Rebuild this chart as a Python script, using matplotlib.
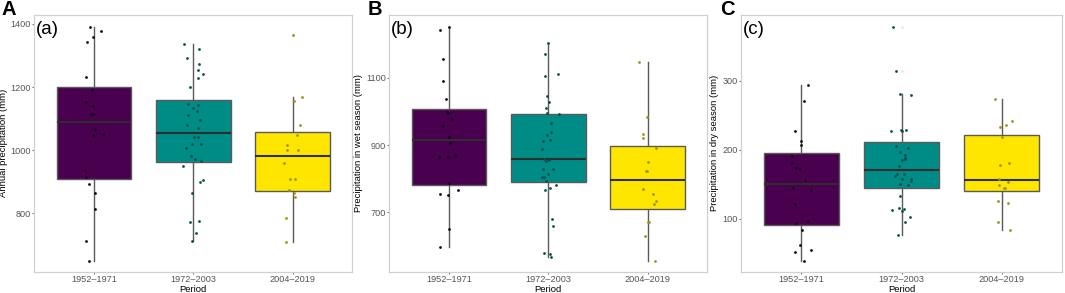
import numpy as np
import matplotlib.pyplot as plt

plt.rcParams['font.family'] = ['Liberation Sans', 'DejaVu Sans']

periods = ['1952–1971', '1972–2003', '2004–2019']

# annual precipitation (mm), panel (a)
annual_p1 = [1391, 1379, 1357, 1342, 1231, 1189, 1153, 1140, 1114, 1114,
             1066, 1051, 1048, 937, 916, 892, 865, 813, 712, 650]
annual_p2 = [1335, 1321, 1292, 1273, 1254, 1240, 1228, 1199, 1146, 1142,
             1135, 1124, 1110, 1094, 1079, 1069, 1042, 1042, 1020, 1019,
             1008, 980, 971, 965, 950, 905, 900, 865, 777, 772, 736, 712]
annual_p3 = [1366, 1168, 1155, 1081, 1049, 1015, 1002, 1002, 960, 910,
             910, 873, 863, 853, 785, 710]

# wet season precipitation (mm), panel (b)
wet_p1 = [1251, 1241, 1155, 1090, 1036, 998, 994, 976, 958, 923,
          907, 868, 866, 866, 788, 766, 755, 751, 651, 596]
wet_p2 = [1204, 1170, 1105, 1111, 1047, 1027, 1010, 994, 993, 965,
          938, 916, 911, 889, 860, 854, 829, 828, 813, 805,
          805, 794, 782, 773, 766, 681, 661, 579, 577, 568, 855, 930]
wet_p3 = [1146, 983, 932, 922, 890, 849, 822, 822, 770, 755,
          734, 724, 672, 672, 630, 556]

# dry season precipitation (mm), panel (c)
dry_p1 = [294, 270, 227, 213, 207, 191, 180, 174, 172, 156,
          144, 142, 121, 96, 93, 84, 62, 54, 51, 39]
dry_p2 = [378, 314, 280, 279, 227, 228, 227, 228, 205, 202,
          196, 192, 188, 186, 176, 165, 164, 161, 157, 157,
          155, 150, 149, 133, 113, 115, 114, 111, 102, 95, 76, 185]
dry_p3 = [273, 241, 236, 232, 218, 180, 177, 158, 153, 148,
          144, 144, 126, 122, 95, 83]

# horizontal jitter of each point (1/300 of a category step), same order as above
annual_j1 = [-12, 20, -2, -20, -25, -7, -23, -3, -9, -3, 3, 27, -2, -28, -24, -16, 3, 3, -23, -14]
annual_j2 = [-27, 18, -20, 16, 13, 28, 13, -9, -16, 13, -2, 12, -17, 19, -19, 15, 1, 13, -3, 24,
             -22, -7, 6, 24, -30, 28, 19, -3, 18, -9, 8, -4]
annual_j3 = [2, 27, 3, 22, 13, -17, -17, 16, -26, -7, 6, -12, 3, 8, -20, -19]

wet_j1 = [0, -26, -17, -17, -10, -7, -2, 8, -18, 0, 3, 18, -30, -3, 0, 28, -27, -2, 0, -26]
wet_j2 = [-1, -11, -10, 29, -4, 1, -7, -5, 31, 8, 8, 6, -16, -18, -12, -6, -16, 14, -2, -18,
          -12, -8, 24, 5, -11, 11, 13, -13, 4, 7, 2, -3]
wet_j3 = [-25, -3, -13, -13, 26, 1, -5, -1, -13, 16, 24, 18, 0, 5, -8, 21]

dry_j1 = [21, 8, -20, -2, -1, -27, -27, -17, -4, 10, -25, 28, -18, 20, -15, 1, -4, 28, -18, 8]
dry_j2 = [-26, -16, -6, 28, -30, -3, 0, 14, -16, 20, -6, 9, 9, 9, -8, -15, 6, -20, 2, 28,
          28, -4, 20, -5, -29, -9, 8, 0, 26, 10, -12, 0]
dry_j3 = [-20, 29, 13, -4, 1, 22, -5, -7, 17, -9, 6, 10, -10, 18, -10, 24]

fills = ['#48004F', '#008C86', '#FFE600']
dots = ['#14051a', '#0b4f4a', '#9c9316']


def panel(ax, groups, jitters, ylabel, tag, ticks, ylim):
    ax.boxplot(groups, positions=[1, 2, 3], widths=0.75, patch_artist=True,
               showcaps=False, whis=1.5,
               boxprops=dict(edgecolor='#5a5a5a', linewidth=1.0, zorder=2),
               whiskerprops=dict(color='#5a5a5a', linewidth=1.0, zorder=1),
               medianprops=dict(color='#2e2e2e', linewidth=1.5, zorder=3),
               flierprops=dict(marker='o', markersize=2, markerfacecolor='#e6e6e6',
                               markeredgecolor='none', zorder=1))
    for patch, c in zip(ax.patches, fills):
        patch.set_facecolor(c)
    for i, (vals, jit) in enumerate(zip(groups, jitters)):
        x = i + 1 + np.array(jit) / 300.0
        ax.scatter(x, vals, s=4, color=dots[i], linewidths=0, zorder=4)
    ax.set_xlim(0.4, 3.6)
    ax.set_ylim(*ylim)
    ax.set_yticks(ticks)
    ax.set_xticks([1, 2, 3])
    ax.set_xticklabels(periods)
    ax.tick_params(labelsize=6.6, colors='#555555', length=1.7, width=0.6, pad=0.8)
    for s in ax.spines.values():
        s.set_color('#d0d0d0')
        s.set_linewidth(0.9)
    ax.set_xlabel('Period', fontsize=6.8, labelpad=0.3)
    ax.set_ylabel(ylabel, fontsize=6.8, labelpad=2.0)
    ax.text(0.006, 0.978, tag, transform=ax.transAxes, fontsize=13.5,
            ha='left', va='top')


fig = plt.figure(figsize=(10.65, 2.93), dpi=100)
bot, h = 0.0727, 0.876
ax1 = fig.add_axes([0.0322, bot, 0.2986, h])
ax2 = fig.add_axes([0.3655, bot, 0.2986, h])
ax3 = fig.add_axes([0.6958, bot, 0.3014, h])

panel(ax1, [annual_p1, annual_p2, annual_p3], [annual_j1, annual_j2, annual_j3],
      'Annual precipitation (mm)', '(a)', [800, 1000, 1200, 1400], (615, 1428))
panel(ax2, [wet_p1, wet_p2, wet_p3], [wet_j1, wet_j2, wet_j3],
      'Precipitation in wet season (mm)', '(b)', [700, 900, 1100], (524, 1286))
panel(ax3, [dry_p1, dry_p2, dry_p3], [dry_j1, dry_j2, dry_j3],
      'Precipitation in dry season (mm)', '(c)', [100, 200, 300], (23, 395))

for xf, letter in [(0.001, 'A'), (0.345, 'B'), (0.676, 'C')]:
    fig.text(xf, 1.0, letter, fontsize=14.5, fontweight='bold', ha='left', va='top')

fig.savefig('out.png', dpi=100)
